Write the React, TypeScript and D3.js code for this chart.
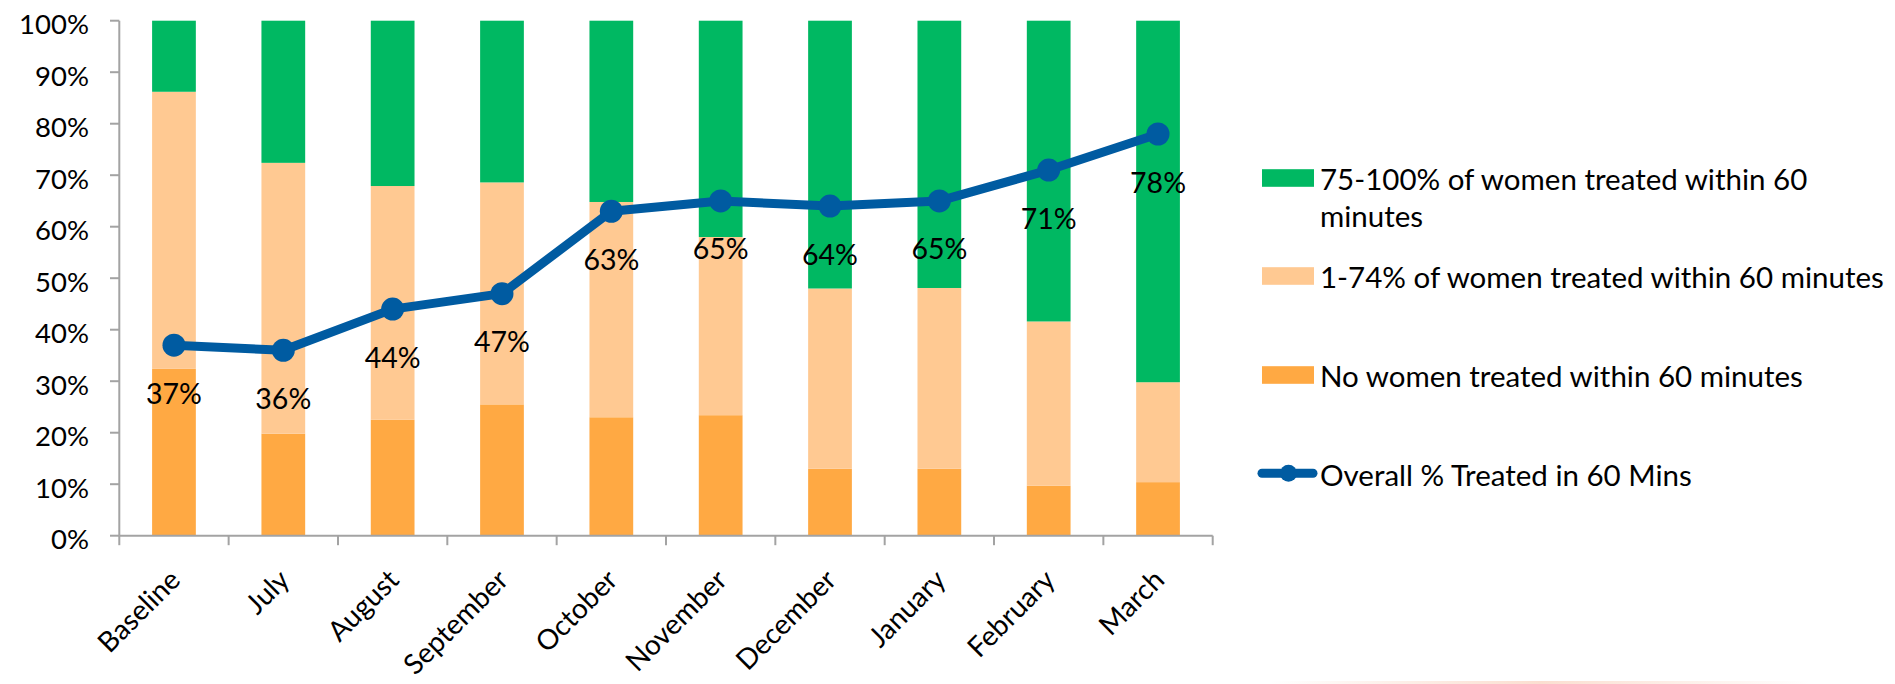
import React from "react";
import * as d3 from "d3";

// Months of the audit
const categories = [
  "Baseline",
  "July",
  "August",
  "September",
  "October",
  "November",
  "December",
  "January",
  "February",
  "March",
];

// Share of units in each treatment band (%), stacked bottom to top
const noneTreated = [32.4, 19.8, 22.5, 25.5, 23.0, 23.4, 13.0, 13.0, 9.7, 10.4];
const partlyTreated = [53.8, 52.6, 45.4, 43.1, 41.8, 34.6, 35.0, 35.1, 31.9, 19.4];
const mostlyTreated = [13.8, 27.6, 32.1, 31.4, 35.2, 42.0, 52.0, 51.9, 58.4, 70.2];

// Overall % of women treated within 60 minutes
const overallTreated = [37, 36, 44, 47, 63, 65, 64, 65, 71, 78];

const yTicks = [0, 10, 20, 30, 40, 50, 60, 70, 80, 90, 100];

const seriesKeys = ["none", "partly", "mostly"] as const;
const seriesColors: Record<string, string> = {
  none: "#FFA943",
  partly: "#FFC992",
  mostly: "#00B862",
};
const legendLabels = [
  ["75-100% of women treated within 60", "minutes"],
  ["1-74% of women treated within 60 minutes"],
  ["No women treated within 60 minutes"],
];
const lineLabel = "Overall % Treated in 60 Mins";

const FONT = "Lato, 'Open Sans', sans-serif";
const LINE_COLOR = "#005BA1";
const AXIS_COLOR = "#A3A3A3";

export default function App() {
  const width = 1895;
  const height = 684;
  const left = 119.3;
  const right = 1212.7;
  const top = 20.7;
  const bottom = 535.7;

  const x = d3
    .scaleBand<string>()
    .domain(categories)
    .range([left, right])
    .paddingInner(0.6)
    .paddingOuter(0.3);
  const y = d3.scaleLinear().domain([0, 100]).range([bottom, top]);

  const rows = categories.map((c, i) => ({
    cat: c,
    none: noneTreated[i],
    partly: partlyTreated[i],
    mostly: mostlyTreated[i],
  }));
  const stacked = d3.stack<any>().keys(seriesKeys as unknown as string[])(rows);

  const cx = (c: string) => (x(c) as number) + x.bandwidth() / 2;
  const line = d3
    .line<number>()
    .x((_, i) => cx(categories[i]))
    .y((v) => y(v));

  const step = x.step();
  const boundaries = d3.range(categories.length + 1).map((i) => left + i * step);

  const legendX = 1262;
  const legendTextX = 1320;
  const legendRows = [178, 276, 375];
  const lineLegendY = 473.3;

  return (
    <svg
      width={width}
      height={height}
      style={{ position: "absolute", left: 0, top: 0, background: "#fff" }}
      fontFamily={FONT}
    >
      <defs>
        <linearGradient id="footGlow" x1="0" x2="1" y1="0" y2="0">
          <stop offset="0" stopColor="#F4A27A" stopOpacity={0} />
          <stop offset="0.5" stopColor="#F4A27A" stopOpacity={0.35} />
          <stop offset="1" stopColor="#F4A27A" stopOpacity={0} />
        </linearGradient>
      </defs>
      <rect width={width} height={height} fill="#fff" />

      {/* stacked bars */}
      {stacked.map((s) => (
        <g key={s.key} fill={seriesColors[s.key]}>
          {s.map((d) => (
            <rect
              key={d.data.cat}
              x={x(d.data.cat)}
              width={x.bandwidth()}
              y={y(d[1])}
              height={y(d[0]) - y(d[1])}
            />
          ))}
        </g>
      ))}

      {/* y axis */}
      <line x1={left} x2={left} y1={y(0)} y2={y(100)} stroke={AXIS_COLOR} strokeWidth={2} />
      {yTicks.map((t) => (
        <g key={t}>
          <line x1={left - 9.3} x2={left} y1={y(t)} y2={y(t)} stroke={AXIS_COLOR} strokeWidth={2} />
          <text x={89} y={y(t) + 13.5} textAnchor="end" fontSize={27.5} fill="#000">
            {t}%
          </text>
        </g>
      ))}

      {/* x axis */}
      <line x1={left} x2={right} y1={bottom} y2={bottom} stroke={AXIS_COLOR} strokeWidth={2} />
      {boundaries.map((b, i) => (
        <line key={i} x1={b} x2={b} y1={bottom} y2={bottom + 9.5} stroke={AXIS_COLOR} strokeWidth={2} />
      ))}
      {categories.map((c) => (
        <text
          key={c}
          transform={`translate(${cx(c) + 8},${bottom + 46}) rotate(-45)`}
          textAnchor="end"
          fontSize={28}
          fill="#000"
        >
          {c}
        </text>
      ))}

      {/* overall line */}
      <path
        d={line(overallTreated) as string}
        fill="none"
        stroke={LINE_COLOR}
        strokeWidth={9}
        strokeLinejoin="round"
      />
      {overallTreated.map((v, i) => (
        <circle key={i} cx={cx(categories[i])} cy={y(v)} r={11.5} fill={LINE_COLOR} />
      ))}
      {overallTreated.map((v, i) => (
        <text
          key={i}
          x={cx(categories[i])}
          y={y(v) + 58.5}
          textAnchor="middle"
          fontSize={28.5}
          fill="#000"
        >
          {v}%
        </text>
      ))}

      {/* legend */}
      {legendRows.map((ry, i) => (
        <g key={i}>
          <rect x={legendX} y={ry - 8.8} width={52} height={17.6} fill={seriesColors[seriesKeys[2 - i]]} />
          {legendLabels[i].map((txt, j) => (
            <text key={j} x={legendTextX} y={ry + 12 + j * 37.3} fontSize={29.5} fill="#000">
              {txt}
            </text>
          ))}
        </g>
      ))}
      <line
        x1={1262}
        x2={1313}
        y1={lineLegendY}
        y2={lineLegendY}
        stroke={LINE_COLOR}
        strokeWidth={9}
        strokeLinecap="round"
      />
      <circle cx={1288.5} cy={lineLegendY} r={8.5} fill={LINE_COLOR} />
      <text x={legendTextX} y={lineLegendY + 12.7} fontSize={29.5} fill="#000">
        {lineLabel}
      </text>

      {/* faint footer glow */}
      <rect x={1270} y={681} width={540} height={3} fill="url(#footGlow)" />
    </svg>
  );
}
